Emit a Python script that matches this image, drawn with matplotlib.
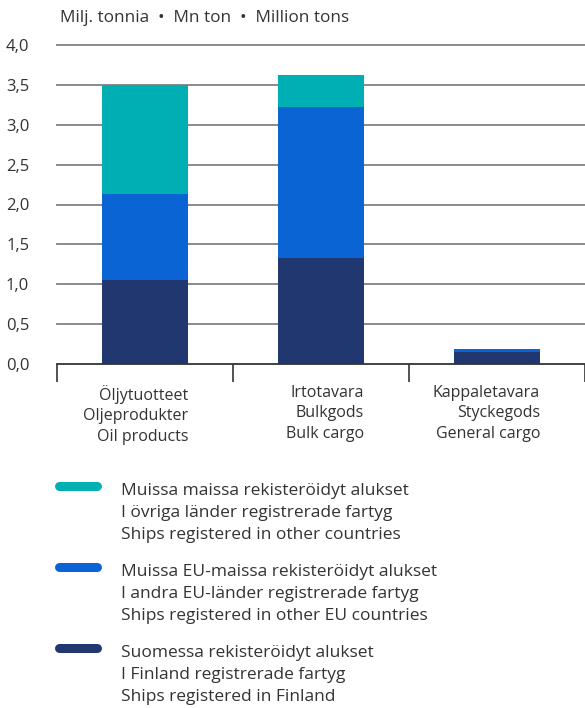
import numpy as np
import matplotlib.pyplot as plt
from matplotlib.lines import Line2D

plt.rcParams['font.family'] = ['Open Sans', 'DejaVu Sans']

# data (million tons)
categories = ['Öljytuotteet\nOljeprodukter\nOil products',
              'Irtotavara\nBulkgods\nBulk cargo',
              'Kappaletavara\nStyckegods\nGeneral cargo']
finland = [1.05, 1.33, 0.15]
other_eu = [1.08, 1.89, 0.04]
other_countries = [1.37, 0.40, 0.0]

series_labels = [
    'Muissa maissa rekisteröidyt alukset\nI övriga länder registrerade fartyg\nShips registered in other countries',
    'Muissa EU-maissa rekisteröidyt alukset\nI andra EU-länder registrerade fartyg\nShips registered in other EU countries',
    'Suomessa rekisteröidyt alukset\nI Finland registrerade fartyg\nShips registered in Finland',
]
yticks = [0.0, 0.5, 1.0, 1.5, 2.0, 2.5, 3.0, 3.5, 4.0]

c_navy = '#21376F'
c_blue = '#0A64D4'
c_teal = '#00AFB3'
text_col = '#333333'

W, H = 585, 708
fig = plt.figure(figsize=(W / 100, H / 100), dpi=100)
# axes placement in pixels
x0, x1 = 57, 585
y_zero, y_top = 364, 45
ymax = 4.0
ax = fig.add_axes([x0 / W, 1 - y_zero / H, (x1 - x0) / W, (y_zero - y_top) / H])

x = np.arange(len(categories))
bw = 0.49
ax.bar(x, finland, bw, color=c_navy, zorder=3)
ax.bar(x, other_eu, bw, bottom=finland, color=c_blue, zorder=3)
ax.bar(x, other_countries, bw, bottom=np.add(finland, other_eu), color=c_teal, zorder=3)

ax.set_xlim(-0.5, 2.5)
ax.set_ylim(0, ymax)
for s in ['top', 'right', 'left']:
    ax.spines[s].set_visible(False)
ax.spines['bottom'].set_color('#333333')
ax.spines['bottom'].set_linewidth(1.3)
ax.spines['bottom'].set_zorder(4)

for v in yticks[1:]:
    ax.axhline(v, color='#8a8a8a', lw=1.4, zorder=1, clip_on=False)

ax.set_yticks(yticks)
ax.set_yticklabels([f'{v:.1f}'.replace('.', ',') for v in yticks],
                   fontsize=12, color=text_col)
ax.tick_params(axis='y', length=0, pad=20)

ax.set_xticks([])
ax.set_xticks([-0.5, 0.5, 1.5, 2.5], minor=True)
ax.tick_params(axis='x', which='minor', length=13, width=1.2, color='#333333')

for i, lab in enumerate(categories):
    ax.text(i + bw / 2, -0.26, lab, ha='right', va='top', fontsize=11.5,
            color=text_col, linespacing=1.38)

fig.text(60 / W, 1 - 18 / H, 'Milj. tonnia  •  Mn ton  •  Million tons',
         fontsize=12.3, color=text_col, va='center', ha='left')

# legend
leg_colors = [c_teal, c_blue, c_navy]
leg_y = [486, 567, 648]
for col, lab, yy in zip(leg_colors, series_labels, leg_y):
    fy = 1 - yy / H
    fig.add_artist(Line2D([59 / W, 97 / W], [fy, fy], color=col, lw=6.5,
                          solid_capstyle='round'))
    fig.text(121 / W, 1 - (yy - 3) / H, lab, fontsize=12.5, color=text_col,
             va='top', ha='left', linespacing=1.5)

fig.savefig('out.png', dpi=100)
